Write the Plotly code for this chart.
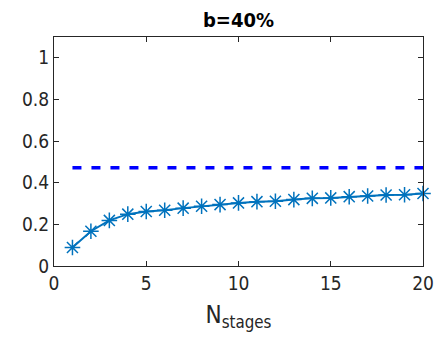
import plotly.graph_objects as go

stages = list(range(1, 21))
efficiency = [0.089, 0.167, 0.219, 0.249, 0.262, 0.268, 0.278, 0.287, 0.295, 0.303,
              0.309, 0.311, 0.319, 0.325, 0.327, 0.333, 0.336, 0.341, 0.342, 0.348]
ref_x = [1, 20]
ref_y = [0.472, 0.472]
title_text = "b=40%"
x_ticks = [0, 5, 10, 15, 20]
y_ticks = [0, 0.2, 0.4, 0.6, 0.8, 1]

FONT = "Liberation Sans Narrow, DejaVu Sans Condensed, Arial Narrow, sans-serif"

fig = go.Figure()
fig.add_trace(go.Scatter(x=ref_x, y=ref_y, mode="lines",
                         line=dict(color="#0000FF", width=3.5, dash="9px,10px"),
                         showlegend=False))
fig.add_trace(go.Scatter(x=stages, y=efficiency, mode="lines+markers",
                         line=dict(color="#0072BD", width=2),
                         marker=dict(symbol="asterisk-open", size=13,
                                     line=dict(color="#0072BD", width=1.5)),
                         showlegend=False, cliponaxis=False))

axis_common = dict(showline=True, linecolor="#262626", linewidth=1, mirror="ticks",
                   ticks="inside", ticklen=5, tickcolor="#262626", showgrid=False,
                   zeroline=False, tickfont=dict(family=FONT, size=19, color="#262626"))

fig.update_layout(
    width=446, height=339,
    margin=dict(l=54, r=19, t=37, b=73),
    plot_bgcolor="white", paper_bgcolor="white",
    title=dict(text=f"<b>{title_text}</b>", x=0.5, xanchor="center", y=0.94, yanchor="middle",
               xref="paper",
               font=dict(family=FONT, size=20, color="black")),
    xaxis=dict(range=[0, 20], tickvals=x_ticks, ticktext=[str(v) for v in x_ticks],
               title=dict(text="N<sub>stages</sub>", standoff=13,
                          font=dict(family=FONT, size=24, color="#262626")),
               **axis_common),
    yaxis=dict(range=[0, 1.1], tickvals=y_ticks, ticktext=["0", "0.2", "0.4", "0.6", "0.8", "1"],
               **axis_common),
)

fig.write_html("out.html")
